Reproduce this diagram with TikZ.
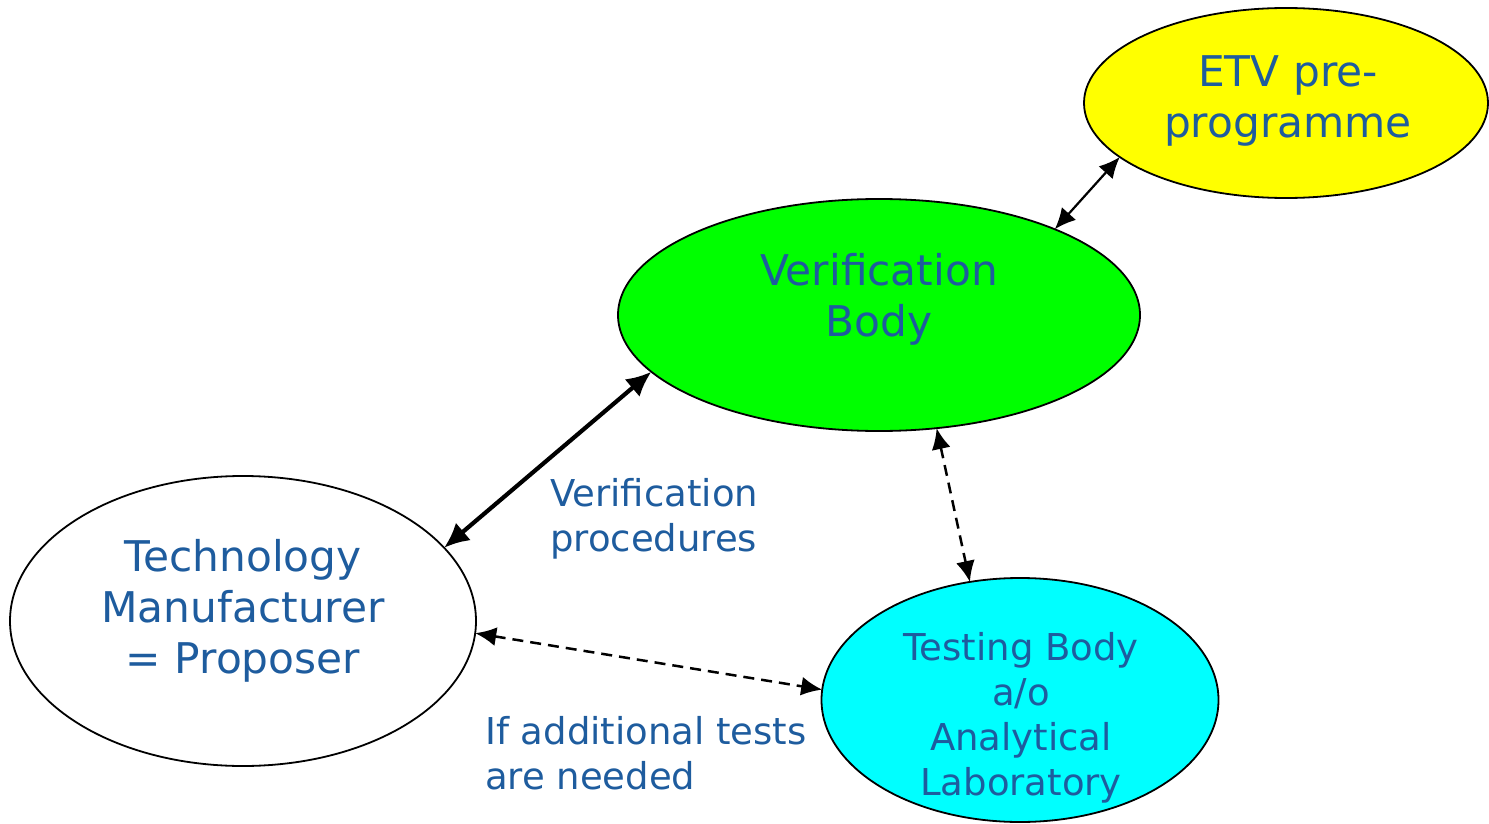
\documentclass[tikz,border=0pt]{standalone}
\usepackage{fontspec}
\setmainfont{DejaVu Sans}
\usetikzlibrary{shapes.geometric,arrows.meta}
\definecolor{txtblue}{RGB}{30,92,158}
\tikzset{
  blob/.style={ellipse,draw=black,line width=1.8pt,inner sep=0pt,outer sep=0pt},
  bigtxt/.style={text=txtblue,align=center,font=\fontsize{42.3}{51}\selectfont,inner sep=0pt},
  smalltxt/.style={text=txtblue,font=\fontsize{37}{45}\selectfont,inner sep=0pt},
  link/.style={line width=2.2pt,{Latex[length=21pt,width=19pt]}-{Latex[length=21pt,width=19pt]}},
  thicklink/.style={line width=4.2pt,{Latex[length=25pt,width=23pt]}-{Latex[length=25pt,width=23pt]}},
  dlink/.style={line width=2.5pt,dash pattern=on 11pt off 7pt,{Latex[length=21pt,width=19pt]}-{Latex[length=21pt,width=19pt]}}
}
\begin{document}
\begin{tikzpicture}[x=1pt,y=-1pt]
\useasboundingbox (0,0) rectangle (1489,824);
\node[blob,fill={rgb,255:red,255;green,255;blue,0},minimum width=404pt,minimum height=190pt] (etv) at (1286,103) {};
\node[blob,fill={rgb,255:red,0;green,255;blue,0},minimum width=522pt,minimum height=232pt] (vb) at (879,315) {};
\node[blob,fill=white,minimum width=466pt,minimum height=290pt] (tm) at (243,621) {};
\node[blob,fill={rgb,255:red,0;green,255;blue,255},minimum width=397pt,minimum height=244pt] (tb) at (1020,700) {};

\node[bigtxt] (etvt) at (1288,101) {ETV pre-\\programme};
\node[bigtxt] (vbt) at (879,299) {Verification\\Body};
\node[bigtxt] (tmt) at (243,611) {Technology\\Manufacturer\\= Proposer};
\node[smalltxt,align=center] (tbt) at (1021,718) {Testing Body\\a/o\\Analytical\\Laboratory};
\node[smalltxt,align=left,anchor=west] (vp) at (550,519) {Verification\\procedures};
\node[smalltxt,align=left,anchor=west] (ia) at (485,753) {If additional tests\\are needed};

\draw[thicklink] (tm.20.3) -- (vb.194.6);
\draw[link] (vb.26.3) -- (etv.198.2);
\draw[dlink] (vb.-63.8) -- (tb.113.7);
\draw[dlink] (tm.-3.7) -- (tb.177.7);
\end{tikzpicture}
\end{document}
